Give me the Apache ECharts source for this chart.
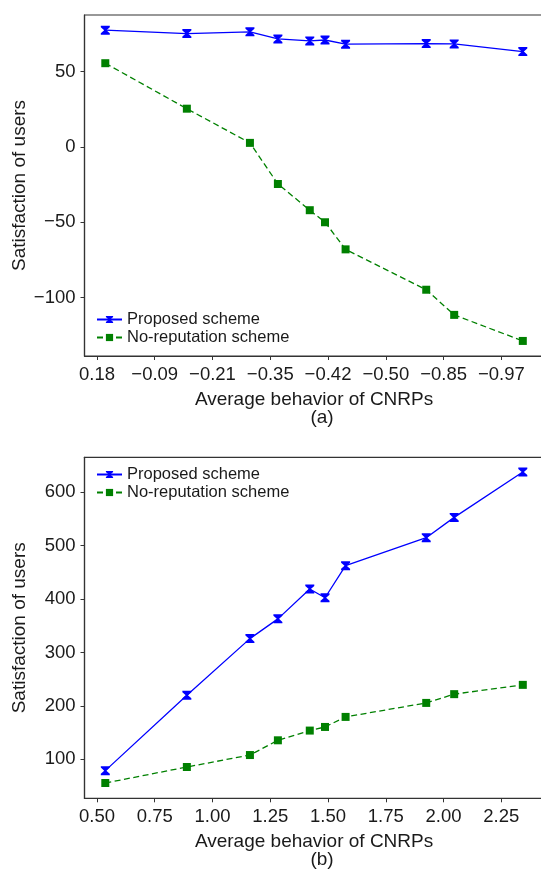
<!DOCTYPE html>
<html>
<head>
<meta charset="utf-8">
<script src="https://cdn.jsdelivr.net/npm/echarts@6/dist/echarts.min.js"></script>
<style>
  html, body { margin: 0; padding: 0; background: #fff; }
  #chart { width: 541px; height: 878px; }
</style>
</head>
<body>
<div id="chart"></div>
<script>
// x positions of the 10 measurement points (shared by both panels)
const behaviorPos = [0.536, 0.889, 1.162, 1.283, 1.421, 1.487, 1.576, 1.925, 2.046, 2.343];

// panel (a)
const proposedA = [77.5, 75.3, 76.4, 71.7, 70.4, 71.0, 68.2, 68.6, 68.4, 63.3];
const noRepA = [55.6, 25.4, 2.7, -24.6, -42, -50, -68, -94.8, -111.5, -128.8];
const xTickLabelsA = ['0.18', '-0.09', '-0.21', '-0.35', '-0.42', '-0.50', '-0.85', '-0.97'];
const yTicksA = [-100, -50, 0, 50];

// panel (b)
const proposedB = [78.8, 220, 326, 363, 419, 402.5, 462.5, 515, 553, 638];
const noRepB = [55.6, 85.6, 108, 135.6, 153.8, 160.6, 179.4, 205.6, 222, 239.4];
const yTicksB = [100, 200, 300, 400, 500, 600];

// tick positions on the shared x axis
const xTicks = [0.5, 0.75, 1.0, 1.25, 1.5, 1.75, 2.0, 2.25];

const FONT = 'Liberation Sans, Arial, sans-serif';
const TEXT = '#1a1a1a';
const BLUE = '#0000ff';
const GREEN = '#008000';
const hourglass = 'path://M0,0H10V1.6L6.2,5L10,8.4V10H0V8.4L3.8,5L0,1.6Z';

const minus = s => String(s).replace('-', '\u2212');
const pairs = (xs, ys) => xs.map((x, i) => [x, ys[i]]);

function xAxisFor(gridIndex, formatter) {
    return {
        type: 'value', gridIndex, min: 0.446, max: 2.433,
        name: 'Average behavior of CNRPs', nameLocation: 'middle', nameGap: 34,
        nameTextStyle: { fontFamily: FONT, fontSize: 19, color: TEXT },
        axisLine: { show: true, onZero: false, lineStyle: { color: '#333', width: 1.2 } },
        axisTick: { show: true, inside: false, length: 4, customValues: xTicks, lineStyle: { color: '#333' } },
        axisLabel: { customValues: xTicks, margin: 9, fontFamily: FONT, fontSize: 18.5, color: TEXT, formatter },
        splitLine: { show: false }
    };
}

function yAxisFor(gridIndex, min, max, ticks) {
    return {
        type: 'value', gridIndex, min, max,
        name: 'Satisfaction of users', nameLocation: 'middle', nameGap: 55, nameMoveOverlap: false,
        nameTextStyle: { fontFamily: FONT, fontSize: 19, color: TEXT },
        axisLine: { show: true, onZero: false, lineStyle: { color: '#333', width: 1.2 } },
        axisTick: { show: true, inside: false, length: 4, customValues: ticks, lineStyle: { color: '#333' } },
        axisLabel: { customValues: ticks, margin: 9, fontFamily: FONT, fontSize: 18.5, color: TEXT, formatter: v => minus(v) },
        splitLine: { show: false }
    };
}

function lineSeries(name, idx, data, color, dashed) {
    return {
        name, type: 'line', xAxisIndex: idx, yAxisIndex: idx, data,
        symbol: dashed ? 'rect' : hourglass,
        symbolSize: dashed ? 8 : [9, 9],
        itemStyle: { color },
        lineStyle: { color, width: 1.3, type: dashed ? [6, 3.5] : 'solid' },
        animation: false
    };
}

const legendStyle = {
    orient: 'vertical', left: 96, padding: 0, itemWidth: 25, itemHeight: 9, itemGap: 1,
    textStyle: { fontFamily: FONT, fontSize: 16.5, color: TEXT },
    data: ['Proposed scheme', 'No-reputation scheme']
};

const gridBase = {
    left: 84.5, right: -2.6, height: 341, containLabel: false, outerBoundsMode: 'none',
    show: true, borderColor: '#333', borderWidth: 1.2
};

const chart = echarts.init(document.getElementById('chart'));
chart.setOption({
    backgroundColor: '#fff',
    title: [
        { text: '(a)', left: 317, top: 403, textAlign: 'center', textStyle: { fontFamily: FONT, fontSize: 19, fontWeight: 'normal', color: TEXT } },
        { text: '(b)', left: 317, top: 845, textAlign: 'center', textStyle: { fontFamily: FONT, fontSize: 19, fontWeight: 'normal', color: TEXT } }
    ],
    legend: [
        Object.assign({ top: 311 }, legendStyle),
        Object.assign({ top: 466 }, legendStyle)
    ],
    grid: [
        Object.assign({ top: 15 }, gridBase),
        Object.assign({ top: 457.3 }, gridBase)
    ],
    xAxis: [
        xAxisFor(0, v => minus(xTickLabelsA[Math.round((v - 0.5) / 0.25)])),
        xAxisFor(1, v => v.toFixed(2))
    ],
    yAxis: [
        yAxisFor(0, -138.8, 87.6, yTicksA),
        yAxisFor(1, 27, 665.5, yTicksB)
    ],
    series: [
        lineSeries('Proposed scheme', 0, pairs(behaviorPos, proposedA), BLUE, false),
        lineSeries('No-reputation scheme', 0, pairs(behaviorPos, noRepA), GREEN, true),
        lineSeries('Proposed scheme', 1, pairs(behaviorPos, proposedB), BLUE, false),
        lineSeries('No-reputation scheme', 1, pairs(behaviorPos, noRepB), GREEN, true)
    ]
});
</script>
</body>
</html>
